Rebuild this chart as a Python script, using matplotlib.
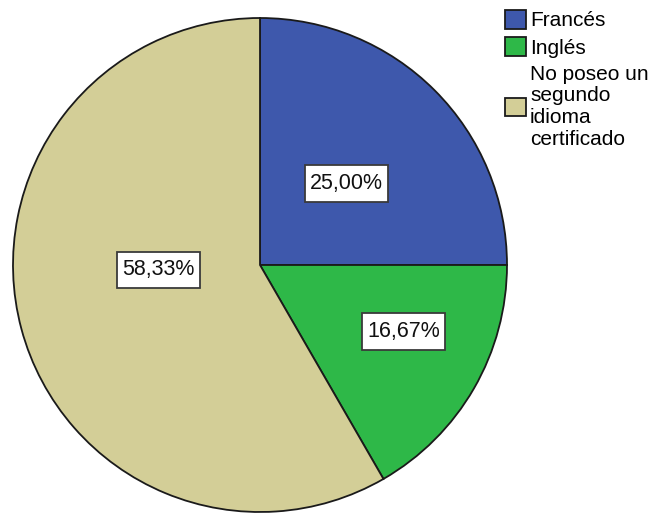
import matplotlib.pyplot as plt
from matplotlib.path import Path

# datos
categorias = ['Francés', 'Inglés', 'No poseo un\nsegundo\nidioma\ncertificado']
porcentajes = [25.00, 16.67, 58.33]
colores = ['#3E58AC', '#2EB848', '#D3CE97']
# posiciones de las etiquetas (fraccion del radio)
pos_etiquetas = [(0.35, 0.33), (0.58, -0.27), (-0.41, -0.02)]

plt.rcParams['font.family'] = ['Liberation Sans', 'DejaVu Sans']


def caja(x0, y0, width, height, mutation_size):
    # caja tipo SPSS: poco margen a los lados, mas arriba y abajo
    px = 0.25 * mutation_size
    py = 0.36 * mutation_size
    x0, y0 = x0 - px, y0 - py
    x1, y1 = x0 + width + 2 * px, y0 + height + 2 * py
    return Path([(x0, y0), (x1, y0), (x1, y1), (x0, y1), (x0, y0)],
                [Path.MOVETO, Path.LINETO, Path.LINETO, Path.LINETO, Path.CLOSEPOLY])


W, H = 656, 513
fig = plt.figure(figsize=(W / 100, H / 100), dpi=100)
cx, cy, r = 260, 265, 247
ax = fig.add_axes([(cx - r) / W, (H - cy - r) / H, 2 * r / W, 2 * r / H])

wedges, _ = ax.pie(porcentajes, colors=colores, startangle=90, counterclock=False,
                   radius=1, wedgeprops=dict(edgecolor='#1a1a1a', linewidth=1.3))
ax.set_xlim(-1, 1)
ax.set_ylim(-1, 1)
ax.set_aspect('equal')
ax.axis('off')

for p, (x, y) in zip(porcentajes, pos_etiquetas):
    txt = ('%.2f%%' % p).replace('.', ',')
    ax.text(x, y, txt, ha='center', va='center', fontsize=15.5, color='#111111',
            bbox=dict(boxstyle=caja, facecolor='white', edgecolor='#3a3a3a', linewidth=1.3))

leg = fig.legend(wedges, categorias, loc='upper left', bbox_to_anchor=(505 / W, 1 - 10 / H),
                 frameon=False, fontsize=15, handlelength=1.0, handleheight=1.0,
                 handletextpad=0.2, labelspacing=0.33, borderaxespad=0, borderpad=0)
for t in leg.get_texts():
    t.set_linespacing(1.18)

fig.savefig('out.png', dpi=100)
